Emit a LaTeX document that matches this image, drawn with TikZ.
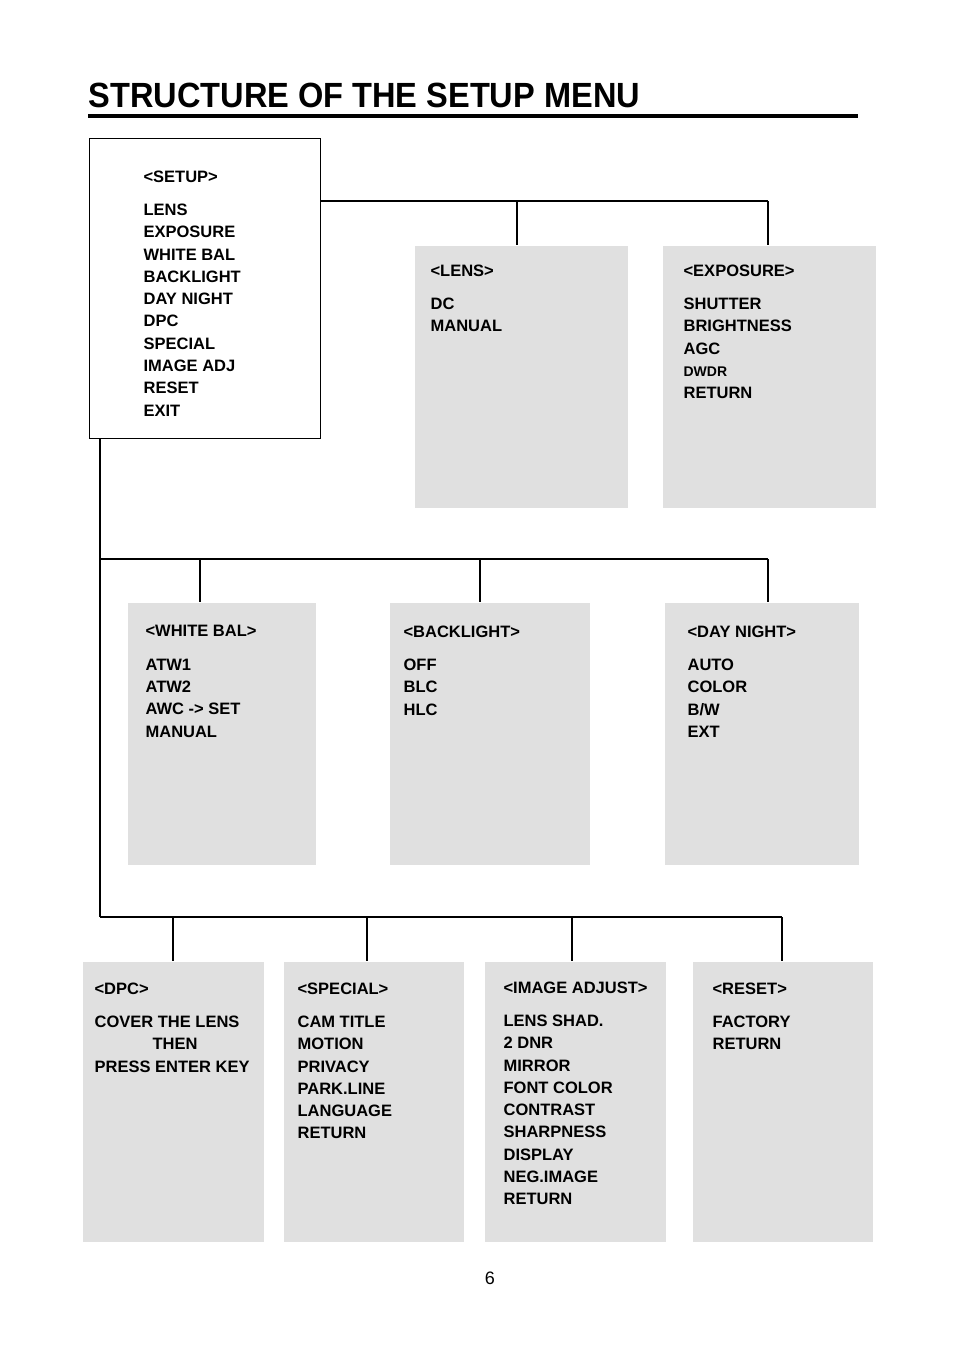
\documentclass[tikz,border=0pt]{standalone}
\usepackage{fontspec}
\setmainfont{Liberation Sans}
\tikzset{every picture/.style={line width=1.2pt}}
\tikzset{
  menubox/.style={fill={rgb,255:red,224;green,224;blue,224},draw=none,anchor=north west,inner sep=0pt},
  menutext/.style={anchor=north west,inner sep=0pt,align=left,font=\bfseries\fontsize{16.5}{22.3}\selectfont},
}
\begin{document}
\begin{tikzpicture}[x=1pt,y=1pt,yscale=-1,xscale=1]
\useasboundingbox (0,0) rectangle (954,1345);

% Title
\node [anchor=base west,inner sep=0pt,font=\bfseries\fontsize{35}{40}\selectfont,xscale=0.93] (title) at (88,107) {STRUCTURE OF THE SETUP MENU};
\draw [line width=4pt] (88,115.5) -- (858,115.5);

% Boxes
\node [draw,fill=white,anchor=north west,inner sep=0pt,minimum width=231,minimum height=300] (setup) at (89,138) {};
\node [menubox,minimum width=213,minimum height=262] (lens) at (414,245) {};
\node [menubox,minimum width=213,minimum height=262] (expo) at (662,245) {};
\node [menubox,minimum width=188,minimum height=262] (wbal) at (127,602) {};
\node [menubox,minimum width=200,minimum height=262] (back) at (389,602) {};
\node [menubox,minimum width=194,minimum height=262] (dayn) at (664,602) {};
\node [menubox,minimum width=181,minimum height=280] (dpc) at (82,961) {};
\node [menubox,minimum width=180,minimum height=280] (spec) at (283,961) {};
\node [menubox,minimum width=181,minimum height=280] (imga) at (484,961) {};
\node [menubox,minimum width=180,minimum height=280] (rset) at (692,961) {};

% Connectors
\draw (setup.east|-0,201) -- (768,201);
\draw (517,201) -- (517,0|-lens.north);
\draw (768,201) -- (768,0|-expo.north);
\draw (100,0|-setup.south) -- (100,917);
\draw (100,559) -- (768,559);
\draw (200,559) -- (200,0|-wbal.north);
\draw (480,559) -- (480,0|-back.north);
\draw (768,559) -- (768,0|-dayn.north);
\draw (100,917) -- (782,917);
\draw (173,917) -- (173,0|-dpc.north);
\draw (367,917) -- (367,0|-spec.north);
\draw (572,917) -- (572,0|-imga.north);
\draw (782,917) -- (782,0|-rset.north);

% Texts
\node [menutext] (t-setup) at (143,170) {<SETUP>\\[11pt]LENS\\EXPOSURE\\WHITE BAL\\BACKLIGHT\\DAY NIGHT\\DPC\\SPECIAL\\IMAGE ADJ\\RESET\\EXIT};
\node [menutext] (t-lens) at (430,264) {<LENS>\\[11pt]DC\\MANUAL};
\node [menutext] (t-expo) at (683,264) {<EXPOSURE>\\[11pt]SHUTTER\\BRIGHTNESS\\AGC\\{\fontsize{14}{22.3}\selectfont DWDR}\\RETURN};
\node [menutext] (t-wbal) at (145,625) {<WHITE BAL>\\[11pt]ATW1\\ATW2\\AWC -> SET\\MANUAL};
\node [menutext] (t-back) at (403,625) {<BACKLIGHT>\\[11pt]OFF\\BLC\\HLC};
\node [menutext] (t-dayn) at (687,625) {<DAY NIGHT>\\[11pt]AUTO\\COLOR\\B/W\\EXT};
\node [menutext] (t-dpc) at (94,982) {<DPC>\\[11pt]COVER THE LENS\\\hspace*{58pt}THEN\\PRESS ENTER KEY};
\node [menutext] (t-spec) at (297,982) {<SPECIAL>\\[11pt]CAM TITLE\\MOTION\\PRIVACY\\PARK.LINE\\LANGUAGE\\RETURN};
\node [menutext] (t-imga) at (503,981) {<IMAGE ADJUST>\\[11pt]LENS SHAD.\\2 DNR\\MIRROR\\FONT COLOR\\CONTRAST\\SHARPNESS\\DISPLAY\\NEG.IMAGE\\RETURN};
\node [menutext] (t-rset) at (712,982) {<RESET>\\[11pt]FACTORY\\RETURN};

% Page number
\node [inner sep=0pt,font=\fontsize{18}{20}\selectfont] (page) at (490,1278) {6};
\end{tikzpicture}
\end{document}
